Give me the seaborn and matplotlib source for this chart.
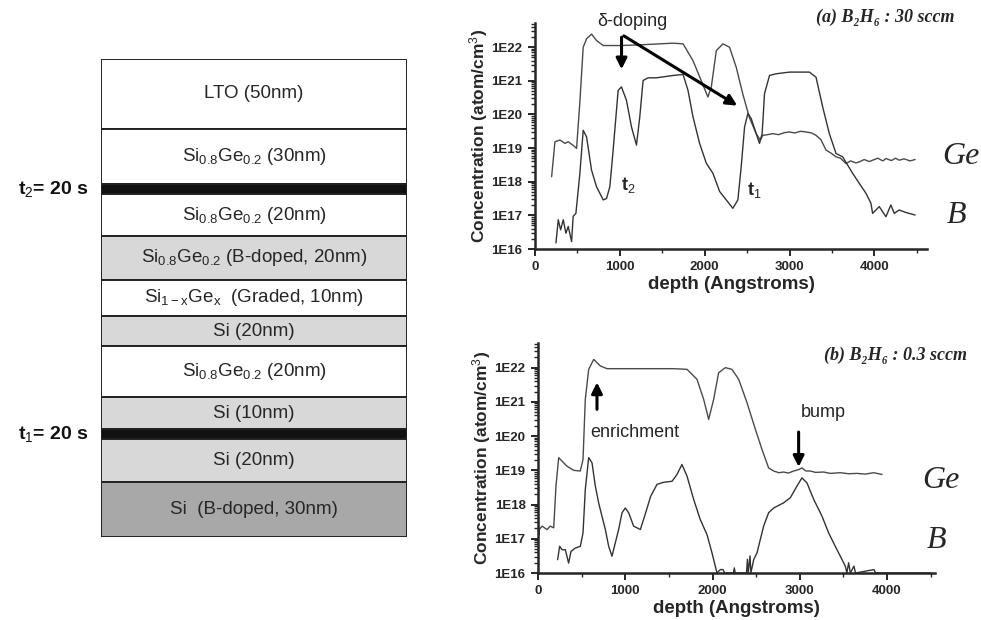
import numpy as np
import pandas as pd
import matplotlib
matplotlib.use("Agg")
import matplotlib.pyplot as plt
import seaborn as sns
from matplotlib.ticker import LogLocator, MultipleLocator, NullFormatter

# ---- layer stack (top to bottom) ----
layer_names = ['LTO (50nm)', 'Si$_{0.8}$Ge$_{0.2}$ (30nm)', '', 'Si$_{0.8}$Ge$_{0.2}$ (20nm)',
               'Si$_{0.8}$Ge$_{0.2}$ (B-doped, 20nm)', 'Si$_{1-x}$Ge$_{x}$  (Graded, 10nm)',
               'Si (20nm)', 'Si$_{0.8}$Ge$_{0.2}$ (20nm)', 'Si (10nm)', '', 'Si (20nm)',
               'Si  (B-doped, 30nm)']
layer_heights = [70, 55, 10, 42, 44, 36, 30, 51, 32, 10, 43, 55]
layer_kind = ['plain', 'plain', 'delta', 'plain', 'doped', 'plain', 'si', 'plain', 'si',
              'delta', 'si', 'si_doped']
delta_labels = ['t$_2$= 20 s', 't$_1$= 20 s']

# ---- (a) B2H6 : 30 sccm, depth in Angstrom, log10 concentration ----
ge_a_depth = [196, 235, 294, 353, 392, 470, 490, 530, 568, 608, 666, 725, 804, 1000, 1235,
              1627, 1745, 1862, 1960, 2038, 2078, 2137, 2215, 2293, 2372, 2450, 2528, 2607,
              2654, 2685, 2740, 2803, 2870, 2940, 2999, 3060, 3130, 3195, 3260, 3312, 3370,
              3430, 3490, 3548, 3600, 3665, 3720, 3780, 3822, 3880, 3940, 3979, 4040, 4100,
              4136, 4200, 4250, 4292, 4350, 4420, 4480]
ge_a_log = [18.15, 19.19, 19.24, 19.14, 19.19, 19.04, 18.99, 20.42, 22.0, 22.25, 22.39, 22.2,
            22.05, 22.05, 22.07, 22.12, 22.1, 21.6, 21.0, 20.52, 20.82, 21.9, 22.1, 22.0, 21.4,
            20.6, 19.9, 19.43, 19.24, 19.38, 19.40, 19.43, 19.40, 19.46, 19.48, 19.45, 19.50,
            19.48, 19.45, 19.38, 19.25, 18.94, 18.85, 18.74, 18.70, 18.54, 18.62, 18.56,
            18.59, 18.66, 18.60, 18.64, 18.70, 18.62, 18.69, 18.63, 18.70, 18.64, 18.68, 18.62,
            18.66]
b_a_depth = [247, 274, 302, 333, 364, 392, 431, 450, 482, 529, 568, 608, 666, 725, 804, 843,
             882, 921, 980, 1019, 1078, 1137, 1196, 1235, 1274, 1333, 1431, 1627, 1745, 1803,
             1862, 1940, 2019, 2097, 2176, 2254, 2332, 2391, 2430, 2470, 2509, 2548, 2607,
             2646, 2677, 2705, 2764, 2842, 2999, 3234, 3312, 3391, 3469, 3548, 3626, 3744,
             3822, 3900, 3959, 3979, 4057, 4136, 4194, 4234, 4292, 4380, 4480]
b_a_log = [16.18, 16.87, 16.57, 16.87, 16.47, 16.67, 16.22, 16.97, 17.06, 18.25, 19.53, 19.33,
           18.35, 17.85, 17.46, 17.5, 17.85, 18.94, 20.72, 20.82, 20.42, 19.63, 19.09, 19.93,
           21.01, 21.09, 21.09, 21.16, 21.19, 20.72, 19.93, 19.14, 18.55, 18.25, 17.71, 17.46,
           17.21, 17.46, 18.44, 19.63, 20.03, 19.88, 19.43, 19.14, 19.43, 20.62, 21.16, 21.21,
           21.26, 21.26, 21.11, 20.22, 19.43, 18.84, 18.74, 18.25, 17.95, 17.66, 17.36, 17.06,
           17.26, 16.96, 17.31, 17.06, 17.16, 17.08, 17.01]

# ---- (b) B2H6 : 0.3 sccm ----
ge_b_depth = [3, 8, 15, 46, 103, 141, 180, 206, 237, 275, 332, 409, 485, 516, 542, 581, 638,
              714, 791, 1173, 1555, 1708, 1822, 1899, 1956, 2013, 2070, 2147, 2223, 2300,
              2395, 2491, 2567, 2643, 2701, 2760, 2815, 2870, 2930, 2987, 3025, 3070, 3121,
              3180, 3274, 3350, 3465, 3560, 3656, 3750, 3847, 3942]
ge_b_log = [17.9, 17.1, 17.27, 17.37, 17.27, 17.37, 17.32, 18.54, 19.37, 19.27, 19.12, 19.0,
            18.98, 19.32, 21.07, 21.95, 22.24, 22.05, 21.97, 21.97, 21.97, 21.95, 21.66,
            21.07, 20.49, 21.07, 21.85, 22.0, 21.95, 21.66, 20.98, 20.2, 19.61, 19.07, 18.98,
            18.93, 18.95, 18.92, 18.98, 19.02, 19.07, 18.98, 18.98, 18.94, 18.95, 18.91, 18.93,
            18.90, 18.91, 18.89, 18.93, 18.88]
b_b_depth = [225, 248, 275, 313, 351, 378, 428, 485, 516, 542, 581, 619, 657, 695, 733, 772,
             810, 848, 886, 924, 963, 1001, 1039, 1096, 1173, 1234, 1291, 1364, 1440, 1536,
             1593, 1650, 1708, 1784, 1860, 1937, 1994, 2032, 2051, 2090, 2120, 2140, 2240,
             2250, 2260, 2390, 2400, 2410, 2430, 2440, 2472, 2510, 2548, 2586, 2643, 2701,
             2815, 2892, 2968, 3025, 3083, 3160, 3255, 3331, 3407, 3465, 3522, 3540, 3560,
             3580, 3620, 3640, 3850, 3870, 4500]
b_b_log = [16.39, 16.78, 16.68, 16.68, 16.29, 16.63, 16.73, 16.78, 17.17, 18.44, 19.37, 19.22,
           18.54, 18.05, 17.66, 17.27, 16.78, 16.49, 16.88, 17.27, 17.76, 17.9, 17.76, 17.37,
           17.27, 17.76, 18.24, 18.59, 18.65, 18.68, 18.88, 19.17, 18.83, 18.15, 17.56,
           17.12, 16.59, 16.2, 16.0, 16.1, 16.1, 16.0, 16.0, 16.15, 16.0, 16.0, 16.4, 16.0,
           16.5, 16.0, 16.39, 16.59, 16.98, 17.37, 17.76, 17.9, 18.05, 18.2, 18.54, 18.78,
           18.63, 18.15, 17.66, 17.17, 16.78, 16.49, 16.2, 16.0, 16.3, 16.0, 16.2, 16.0, 16.1,
           16.0, 16.0]

sns.set_style("ticks")
plt.rcParams['font.family'] = ['Liberation Sans', 'DejaVu Sans']
plt.rcParams['mathtext.fontset'] = 'custom'
plt.rcParams['mathtext.rm'] = 'Liberation Sans'
plt.rcParams['mathtext.bf'] = 'Liberation Sans:bold'
plt.rcParams['mathtext.default'] = 'rm'

fig = plt.figure(figsize=(9.81, 6.20), dpi=100)

# ---- left: layer stack ----
ax0 = fig.add_axes([101 / 981, 1 - 537 / 620, 306 / 981, 478 / 620])
kind_color = {'plain': 'white', 'delta': '#111111', 'doped': '#d8d8d8', 'si': '#d8d8d8',
              'si_doped': '#a8a8a8'}
total = sum(layer_heights)
bottoms = total - np.cumsum(layer_heights)
for name, h, b, kind in zip(layer_names, layer_heights, bottoms, layer_kind):
    ax0.bar(0, h, bottom=b, width=1, color=kind_color[kind], edgecolor='#222222', lw=1.4,
            align='center')
    if name:
        ax0.text(0, b + h / 2, name, ha='center', va='center', fontsize=13.5, color='#262626')
delta_pos = [b + h / 2 for h, b, k in zip(layer_heights, bottoms, layer_kind) if k == 'delta']
for lab, y in zip(delta_labels, delta_pos):
    ax0.annotate(lab, xy=(0, y), xycoords=('axes fraction', 'data'), xytext=(-9, 0),
                 textcoords='offset points', ha='right', va='center', fontsize=14,
                 fontweight='bold', color='#111111')
ax0.set_xlim(-0.5, 0.5)
ax0.set_ylim(0, total)
ax0.axis('off')


def style_axis(ax, xmax):
    ax.set_yscale('log')
    ax.set_ylim(1e16, 10 ** 22.72)
    ax.set_xlim(0, xmax)
    exps = list(range(16, 23))
    ax.set_yticks([10.0 ** e for e in exps])
    ax.set_yticklabels([f'1E{e}' for e in exps])
    ax.yaxis.set_minor_locator(LogLocator(base=10, subs=np.arange(2, 10) * 1.0, numticks=30))
    ax.yaxis.set_minor_formatter(NullFormatter())
    ax.set_xticks(range(0, 4001, 1000))
    ax.xaxis.set_minor_locator(MultipleLocator(500))
    sns.despine(ax=ax)
    for s in ['left', 'bottom']:
        ax.spines[s].set_linewidth(1.8)
    ax.tick_params(which='major', length=5, width=1.4, labelsize=9.5, pad=4)
    ax.tick_params(which='minor', length=3, width=1.0)
    for lab in ax.get_xticklabels() + ax.get_yticklabels():
        lab.set_fontweight('bold')
    ax.set_xlabel('depth (Angstroms)', fontsize=13.5, fontweight='bold', labelpad=2)
    ax.set_ylabel('Concentration (atom/cm$^3$)', fontsize=12.5, fontweight='bold', labelpad=1)


serif = ['Liberation Serif', 'DejaVu Serif']

# ---- (a) ----
ax1 = fig.add_axes([535 / 981, 1 - 249 / 620, 392 / 981, 226 / 620])
da = pd.DataFrame({'depth': ge_a_depth, 'conc': np.power(10.0, ge_a_log)})
db = pd.DataFrame({'depth': b_a_depth, 'conc': np.power(10.0, b_a_log)})
sns.lineplot(data=da, x='depth', y='conc', ax=ax1, color='#4a4a4a', lw=1.0, sort=False)
sns.lineplot(data=db, x='depth', y='conc', ax=ax1, color='#333333', lw=1.0, sort=False)
style_axis(ax1, 4620)
ax1.text(1150, 10 ** 22.77, 'δ-doping', ha='center', va='center', fontsize=13)
ax1.annotate('', xy=(1020, 10 ** 21.26), xytext=(1020, 10 ** 22.38),
             arrowprops=dict(arrowstyle='-|>', lw=2.2, color='black', mutation_scale=16))
ax1.annotate('', xy=(2411, 10 ** 20.22), xytext=(1020, 10 ** 22.38),
             arrowprops=dict(arrowstyle='-|>', lw=2.2, color='black', mutation_scale=16))
ax1.text(1100, 10 ** 17.9, 't$_2$', ha='center', va='center', fontsize=13, fontweight='bold')
ax1.text(2590, 10 ** 17.75, 't$_1$', ha='center', va='center', fontsize=13, fontweight='bold')
ax1.text(1.07, 1.025, '(a) B₂H₆ : 30 sccm', transform=ax1.transAxes, ha='right', va='center',
         fontsize=13, fontweight='bold', style='italic', family=serif)
ax1.text(4800, 10 ** 18.75, 'Ge', ha='left', va='center', fontsize=23, style='italic',
         family=serif, clip_on=False)
ax1.text(4850, 10 ** 17.0, 'B', ha='left', va='center', fontsize=23, style='italic',
         family=serif, clip_on=False)

# ---- (b) ----
ax2 = fig.add_axes([538 / 981, 1 - 573 / 620, 397 / 981, 230 / 620])
da = pd.DataFrame({'depth': ge_b_depth, 'conc': np.power(10.0, ge_b_log)})
db = pd.DataFrame({'depth': b_b_depth, 'conc': np.power(10.0, b_b_log)})
sns.lineplot(data=da, x='depth', y='conc', ax=ax2, color='#4a4a4a', lw=1.0, sort=False)
sns.lineplot(data=db, x='depth', y='conc', ax=ax2, color='#333333', lw=1.0, sort=False)
style_axis(ax2, 4550)
ax2.text(1115, 10 ** 20.1, 'enrichment', ha='center', va='center', fontsize=13)
ax2.annotate('', xy=(676, 10 ** 21.65), xytext=(676, 10 ** 20.7),
             arrowprops=dict(arrowstyle='-|>', lw=2.2, color='black', mutation_scale=16))
ax2.text(3270, 10 ** 20.7, 'bump', ha='center', va='center', fontsize=13)
ax2.annotate('', xy=(2987, 10 ** 19.02), xytext=(2987, 10 ** 20.2),
             arrowprops=dict(arrowstyle='-|>', lw=2.2, color='black', mutation_scale=16))
ax2.text(1.08, 0.948, '(b) B₂H₆ : 0.3 sccm', transform=ax2.transAxes, ha='right', va='center',
         fontsize=13, fontweight='bold', style='italic', family=serif)
ax2.text(4400, 10 ** 18.7, 'Ge', ha='left', va='center', fontsize=23, style='italic',
         family=serif, clip_on=False)
ax2.text(4450, 10 ** 16.95, 'B', ha='left', va='center', fontsize=23, style='italic',
         family=serif, clip_on=False)

fig.savefig('out.png', dpi=100)
